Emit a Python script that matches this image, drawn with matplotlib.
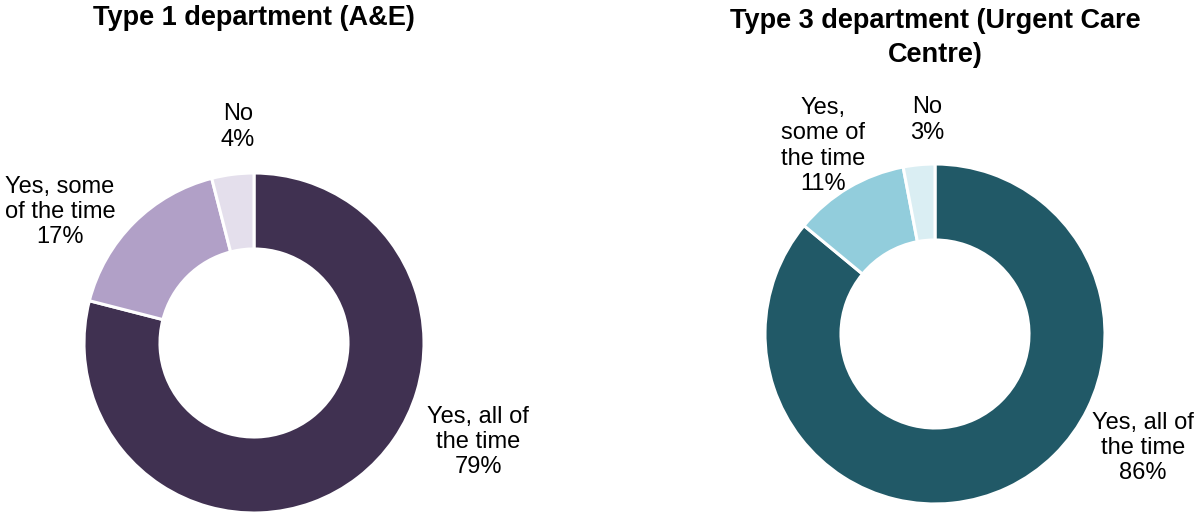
import matplotlib
matplotlib.use("Agg")
import matplotlib.pyplot as plt

plt.rcParams['font.family'] = ['Liberation Sans', 'DejaVu Sans']

# Survey responses by department type
categories = ["Yes, all of the time", "Yes, some of the time", "No"]
type1_values = [79, 17, 4]
type3_values = [86, 11, 3]

type1_labels = ["Yes, all of\nthe time\n79%", "Yes, some\nof the time\n17%", "No\n4%"]
type3_labels = ["Yes, all of\nthe time\n86%", "Yes,\nsome of\nthe time\n11%", "No\n3%"]

type1_colors = ["#403151", "#B1A0C7", "#E4DFEC"]
type3_colors = ["#215967", "#92CDDC", "#DAEEF3"]

W, H = 1196, 513
fig = plt.figure(figsize=(W / 100, H / 100), dpi=100)


def px_axes(cx, cy, r):
    # axes box (in pixels from top-left) holding a donut of radius r
    return fig.add_axes([(cx - r) / W, (H - cy - r) / H, 2 * r / W, 2 * r / H])


def donut(ax, values, colors):
    ax.pie(values, colors=colors, startangle=90, counterclock=False,
           radius=1.0, wedgeprops=dict(width=0.447, edgecolor="white", linewidth=2.2))
    ax.set_xlim(-1, 1)
    ax.set_ylim(-1, 1)
    ax.set_aspect("equal")
    ax.axis("off")


label_kw = dict(ha="center", va="center", fontsize=17, linespacing=1.2, color="#000000")
title_kw = dict(ha="center", va="center", fontsize=19.5, fontweight="bold", linespacing=1.35)

# Type 1 department
ax1 = px_axes(254, 343, 170)
donut(ax1, type1_values, type1_colors)
fig.text(254 / W, 1 - 18 / H, "Type 1 department (A&E)", **title_kw)
fig.text(478 / W, 1 - 442 / H, type1_labels[0], **label_kw)
fig.text(60 / W, 1 - 212 / H, type1_labels[1], **label_kw)
fig.text(238 / W, 1 - 127 / H, type1_labels[2], **label_kw)

# Type 3 department
ax2 = px_axes(935, 334, 170)
donut(ax2, type3_values, type3_colors)
fig.text(935 / W, 1 - 38 / H, "Type 3 department (Urgent Care\nCentre)", **title_kw)
fig.text(1143 / W, 1 - 448 / H, type3_labels[0], **label_kw)
fig.text(823 / W, 1 - 146 / H, type3_labels[1], **label_kw)
fig.text(927 / W, 1 - 120 / H, type3_labels[2], **label_kw)

fig.savefig("out.png", dpi=100, facecolor="white")
